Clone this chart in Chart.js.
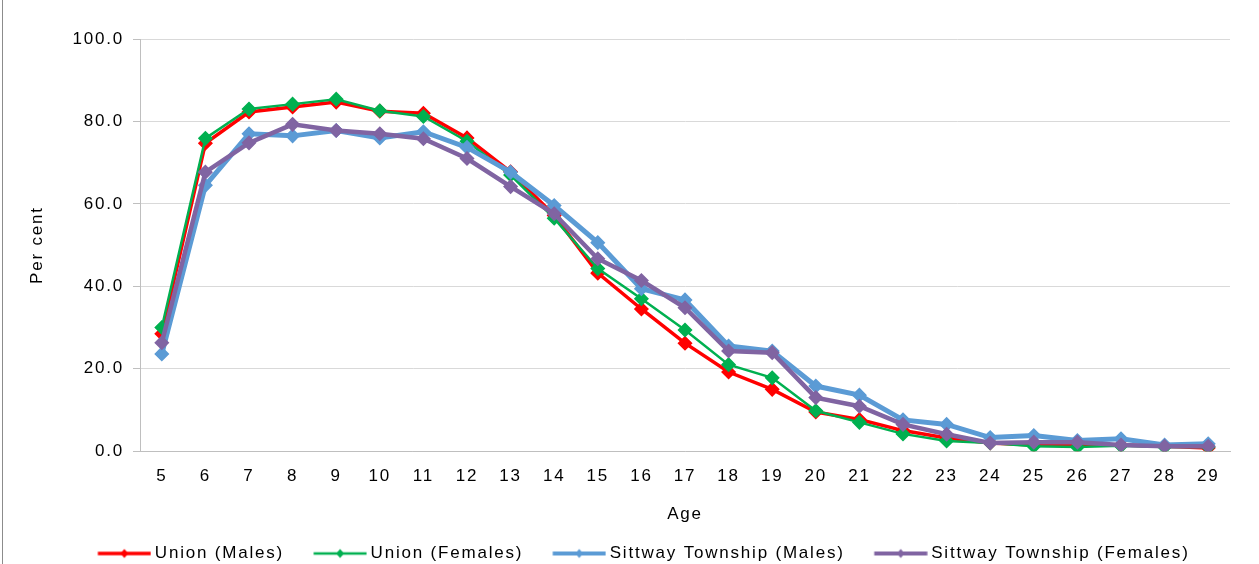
<!DOCTYPE html>
<html>
<head>
<meta charset="utf-8">
<script src="https://cdn.jsdelivr.net/npm/chart.js@4"></script>
<style>
  html, body { margin:0; padding:0; background:#fff; overflow:hidden; }
  #wrap { position:relative; width:1259px; height:572px; }
  #edge { position:absolute; left:2px; top:0; width:1px; height:572px; background:#8c8c8c; }
</style>
</head>
<body>
<div id="wrap">
  <canvas id="c" width="1259" height="572"></canvas>
  <div id="edge"></div>
</div>
<script>
// ---------- data ----------
const ages = ['5','6','7','8','9','10','11','12','13','14','15','16','17','18','19','20','21','22','23','24','25','26','27','28','29'];
const unionMales     = [28.5,74.7,82.3,83.5,84.7,82.5,82.0,76.0,67.8,57.2,43.2,34.5,26.2,19.2,15.0,9.5,7.7,5.0,3.2,2.0,1.5,1.5,1.5,1.2,0.8];
const unionFemales   = [30.0,75.9,83.0,84.2,85.4,82.6,81.2,75.2,67.0,56.5,44.3,37.0,29.4,21.0,17.8,9.8,7.0,4.2,2.5,2.0,1.2,1.0,1.3,1.0,1.0];
const sittwayMales   = [23.6,64.5,77.0,76.5,77.8,76.0,77.5,73.7,67.7,59.6,50.6,39.4,36.7,25.5,24.3,15.8,13.6,7.6,6.5,3.3,3.8,2.6,3.0,1.5,1.8];
const sittwayFemales = [26.3,67.7,74.8,79.3,77.8,77.0,75.8,71.0,64.2,57.6,46.7,41.4,34.8,24.3,23.9,13.0,10.9,6.5,4.1,2.0,2.2,2.2,1.5,1.2,1.2];
const yTicks = [0,20,40,60,80,100];

const FONT = 'Liberation Sans, Arial, sans-serif';
const PAD_LEFT = 48;   // also pushes the legend a bit to the right

// line + diamond swatch for the legend (left margin so items sit like the original)
function swatch(color, lw){
  const cv = document.createElement('canvas');
  cv.width = 68; cv.height = 12;
  const g = cv.getContext('2d');
  g.strokeStyle = color; g.lineWidth = lw;
  g.beginPath(); g.moveTo(14.5,6); g.lineTo(67.5,6); g.stroke();
  g.fillStyle = color;
  g.beginPath(); g.moveTo(41,1.5); g.lineTo(45,6); g.lineTo(41,10.5); g.lineTo(37,6); g.closePath(); g.fill();
  return cv;
}

function series(label, data, color, lw, order){
  return {
    label, data, order,
    borderColor: color, backgroundColor: color,
    borderWidth: lw, tension: 0,
    pointStyle: 'rectRot', pointRadius: 6.5, pointBorderWidth: 1.5,
    pointBackgroundColor: color, pointBorderColor: color,
    _swatch: swatch(color, Math.min(lw, 4))
  };
}

const datasets = [
  series('Union (Males)', unionMales, '#FF0000', 3.5, 3),
  series('Union (Females)', unionFemales, '#00B050', 2.5, 2),
  series('Sittway Township (Males)', sittwayMales, '#5B9BD5', 5, 1),
  series('Sittway Township (Females)', sittwayFemales, '#8064A2', 4.5, 0)
];

// the original text is slightly wide: add a little letter spacing
const spacing = {
  id: 'spacing',
  beforeLayout(chart){ chart.ctx.letterSpacing = '1.8px'; },
  beforeDraw(chart){ chart.ctx.letterSpacing = '1.8px'; }
};

new Chart(document.getElementById('c'), {
  type: 'line',
  data: { labels: ages, datasets },
  plugins: [spacing],
  options: {
    responsive: false,
    animation: false,
    layout: { padding: { top: 39, right: 29, left: PAD_LEFT, bottom: 0 } },
    plugins: {
      tooltip: { enabled: false },
      legend: {
        position: 'bottom',
        labels: {
          usePointStyle: true,
          pointStyleWidth: 58,
          padding: 20,
          color: '#000',
          font: { family: FONT, size: 17 },
          sort: (a, b) => a.datasetIndex - b.datasetIndex,
          generateLabels(chart){
            const items = Chart.defaults.plugins.legend.labels.generateLabels(chart);
            items.forEach(it => { it.pointStyle = chart.data.datasets[it.datasetIndex]._swatch; });
            return items;
          }
        }
      }
    },
    scales: {
      x: {
        offset: true,
        grid: { display: true, drawOnChartArea: false, drawTicks: false },
        border: { color: '#BFBFBF' },
        ticks: { color: '#000', font: { family: FONT, size: 17 }, padding: 15, maxRotation: 0, autoSkip: false },
        title: { display: true, text: 'Age', color: '#000', font: { family: FONT, size: 17 }, padding: { top: 3, bottom: 0 } }
      },
      y: {
        min: 0, max: 100,
        afterBuildTicks(scale){ scale.ticks = yTicks.map(v => ({ value: v })); },
        afterFit(scale){ scale.width = 140 - PAD_LEFT; },
        grid: { color: '#D9D9D9', tickLength: 7, tickColor: '#BFBFBF' },
        border: { color: '#BFBFBF' },
        ticks: { color: '#000', font: { family: FONT, size: 17 }, padding: 9, callback: v => Number(v).toFixed(1) },
        title: { display: true, text: 'Per cent', color: '#000', font: { family: FONT, size: 17 }, padding: { top: 37 - PAD_LEFT - 10.2, bottom: 0 } }
      }
    }
  }
});
</script>
</body>
</html>
